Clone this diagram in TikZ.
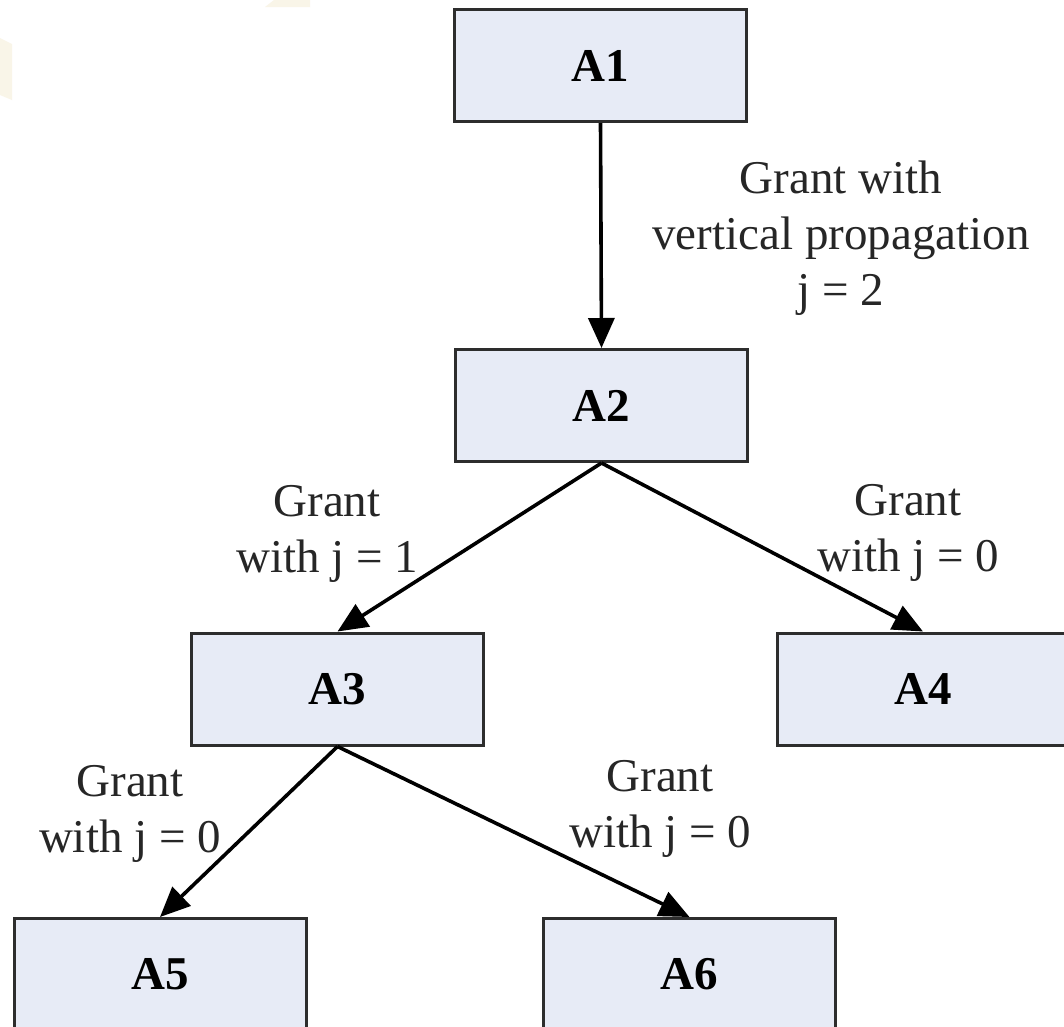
\documentclass[tikz,border=0pt]{standalone}
\usepackage{fontspec}
\setmainfont{Liberation Serif}
\usetikzlibrary{arrows.meta}
\definecolor{boxfill}{RGB}{231,235,246}
\definecolor{boxline}{RGB}{45,45,45}
\definecolor{tint}{RGB}{249,245,232}
\begin{document}
\begin{tikzpicture}[x=1pt,y=-1pt,
  agent/.style={draw=boxline, fill=boxfill, line width=3pt,
    minimum width=292pt, minimum height=112pt, inner sep=0pt,
    font=\fontsize{47}{56}\selectfont\bfseries},
  grant/.style={line width=3.6pt, -{Triangle[length=30pt,width=26pt]}},
  lbl/.style={align=center, font=\fontsize{47}{56}\selectfont,
    text=black!85, inner sep=0pt}]
\useasboundingbox (0,0) rectangle (1064,1026);
\clip (0,0) rectangle (1064,1026);
\fill[white] (0,0) rectangle (1064,1026);
% faint tinted patches in the top-left corner
\fill[tint] (0,38) -- (12,44) -- (12,100) -- (0,95) -- cycle;
\fill[tint] (265,7) -- (274,0) -- (310,0) -- (310,7) -- cycle;

% agents
\node[agent] (A1) at (600.5,65.5) {A1};
\node[agent] (A2) at (601.5,405.5) {A2};
\node[agent] (A3) at (337.5,689) {A3};
\node[agent] (A4) at (923,689) {A4};
\node[agent] (A5) at (160,974.5) {A5};
\node[agent] (A6) at (689.5,974.5) {A6};

% grant labels
\node[lbl] (l12) at (841,238) {Grant with\\vertical propagation\\j = 2};
\node[lbl] (l23) at (327,534) {Grant\\with j = 1};
\node[lbl] (l24) at (908,533) {Grant\\with j = 0};
\node[lbl] (l35) at (130,814) {Grant\\with j = 0};
\node[lbl] (l36) at (660,809) {Grant\\with j = 0};

% delegation arrows
\draw[grant] (A1.south) -- (A2.north);
\draw[grant] (A2.south) -- (A3.north);
\draw[grant] (A2.south) -- (A4.north);
\draw[grant] (A3.south) -- (A5.north);
\draw[grant] (A3.south) -- (A6.north);
\end{tikzpicture}
\end{document}
